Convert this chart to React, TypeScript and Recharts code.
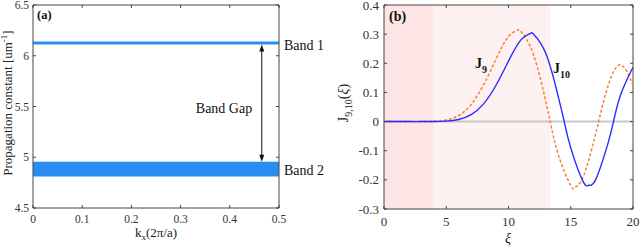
import React from 'react';
import { ComposedChart, LineChart, Line, Area, XAxis, YAxis, ReferenceArea, ReferenceLine } from 'recharts';

// ---- Panel (a) data ----
const kx = [0, 0.5];
const band1 = [6.11, 6.14];
const band2 = [4.81, 4.955];
const gapKx = 0.465;
const kxTicks = [0, 0.1, 0.2, 0.3, 0.4, 0.5];
const betaTicks = [4.5, 5, 5.5, 6, 6.5];

// ---- Panel (b) data ----
const xiJ9 = [0, 1, 2, 3, 4, 5, 6, 7, 8, 9, 10, 10.71, 11, 12, 13, 13.354, 14, 15, 15.28, 16, 17, 17.241, 18, 19, 20];
const j9 = [0, 0, 0, 0.0001, 0.0009, 0.0055, 0.0209, 0.0589, 0.1263, 0.2149, 0.2919, 0.3128, 0.3089, 0.2304, 0.067, 0, -0.1143, -0.22, -0.2252, -0.1895, -0.0429, 0, 0.1227, 0.1948, 0.1251];
const xiJ10 = [0, 1, 2, 3, 4, 5, 6, 7, 8, 9, 10, 11, 11.77, 12, 13, 14, 14.476, 15, 16, 16.44, 17, 18, 18.434, 19, 20];
const j10 = [0, 0, 0, 0, 0.0003, 0.0015, 0.007, 0.0235, 0.0608, 0.1247, 0.2075, 0.2804, 0.3028, 0.3005, 0.2338, 0.085, 0, -0.0901, -0.2062, -0.2183, -0.1991, -0.0732, 0, 0.0915, 0.1865];
const xiTicks = [0, 5, 10, 15, 20];
const jTicks = [-0.3, -0.2, -0.1, 0, 0.1, 0.2, 0.3, 0.4];
const shade = [0, 4, 13.35];

const bandRows = kx.map((k) => ({ kx: k, b1: [band1[0], band1[1]], b2: [band2[0], band2[1]] }));
const j9Rows = xiJ9.map((x, i) => ({ x, y: j9[i] }));
const j10Rows = xiJ10.map((x, i) => ({ x, y: j10[i] }));

const FONT = '"Liberation Serif", "Times New Roman", serif';
const AX = '#444';
const TXT = '#333';
const BAND = '#2a8df2';

function xTick(top: number, size: number, offset: number) {
  return (p: any) => {
    const { x, y, payload } = p;
    return (
      <g>
        <line x1={x} y1={y} x2={x} y2={y - 3} stroke={AX} />
        <line x1={x} y1={top} x2={x} y2={top + 3} stroke={AX} />
        <text x={x} y={y + offset} textAnchor="middle" fontSize={size} style={{ fontFamily: FONT }} fill={TXT}>
          {String(payload.value)}
        </text>
      </g>
    );
  };
}

function yTick(right: number, size: number, gap: number) {
  return (p: any) => {
    const { x, y, payload } = p;
    return (
      <g>
        <line x1={x} y1={y} x2={x + 3} y2={y} stroke={AX} />
        <line x1={right} y1={y} x2={right - 3} y2={y} stroke={AX} />
        <text x={x - gap} y={y} dy="0.35em" textAnchor="end" fontSize={size} style={{ fontFamily: FONT }} fill={TXT}>
          {String(payload.value)}
        </text>
      </g>
    );
  };
}

const ArrowShape = (p: any) => {
  const x = p.x1;
  const top = Math.min(p.y1, p.y2);
  const bot = Math.max(p.y1, p.y2);
  return (
    <g>
      <line x1={x} y1={top + 3} x2={x} y2={bot - 3} stroke="#111" strokeWidth={1} />
      <polygon points={`${x},${top} ${x - 2.5},${top + 7} ${x + 2.5},${top + 7}`} fill="#111" />
      <polygon points={`${x},${bot} ${x - 2.5},${bot - 7} ${x + 2.5},${bot - 7}`} fill="#111" />
    </g>
  );
};

export default function App() {
  return (
    <div style={{ position: 'absolute', left: 0, top: 0, width: 640, height: 248, background: '#fff' }}>
      <div style={{ position: 'absolute', left: 0, top: 0 }}>
        <ComposedChart width={320} height={248} data={bandRows} margin={{ top: 5, right: 41, bottom: 0, left: 0 }}>
          <XAxis dataKey="kx" type="number" domain={[0, 0.5]} ticks={kxTicks} interval={0} axisLine={false} tickLine={false} tickSize={0} tickMargin={0} height={40} tick={xTick(5, 11.5, 14.5)} />
          <YAxis type="number" domain={[4.5, 6.5]} ticks={betaTicks} interval={0} axisLine={false} tickLine={false} tickSize={0} tickMargin={0} width={33} tick={yTick(279, 11.5, 4)} />
          <Area dataKey="b1" type="linear" stroke="none" fill={BAND} fillOpacity={1} isAnimationActive={false} activeDot={false} />
          <Area dataKey="b2" type="linear" stroke="none" fill={BAND} fillOpacity={1} isAnimationActive={false} activeDot={false} />
          <ReferenceLine segment={[{ x: gapKx, y: band1[0] }, { x: gapKx, y: band2[1] }]} shape={ArrowShape} />
          <ReferenceArea x1={0} x2={0.5} y1={4.5} y2={6.5} fill="none" stroke={AX} strokeWidth={1} />
        </ComposedChart>
      </div>
      <div style={{ position: 'absolute', left: 320, top: 0 }}>
        <LineChart width={320} height={248} margin={{ top: 5, right: 7, bottom: 0, left: 0 }}>
          <XAxis dataKey="x" type="number" domain={[0, 20]} ticks={xiTicks} interval={0} axisLine={false} tickLine={false} tickSize={0} tickMargin={0} height={39} tick={xTick(5, 13, 16.5)} allowDataOverflow />
          <YAxis type="number" domain={[-0.3, 0.4]} ticks={jTicks} interval={0} axisLine={false} tickLine={false} tickSize={0} tickMargin={0} width={64} tick={yTick(313, 13, 5)} allowDataOverflow />
          <ReferenceArea x1={shade[0]} x2={shade[1]} y1={-0.3} y2={0.4} fill="#fde5e5" fillOpacity={1} stroke="none" />
          <ReferenceArea x1={shade[1]} x2={shade[2]} y1={-0.3} y2={0.4} fill="#fef1f1" fillOpacity={1} stroke="none" />
          <ReferenceLine y={0} stroke="#c8c8c8" strokeWidth={2} />
          <Line data={j9Rows} dataKey="y" type="natural" stroke="#f5803e" strokeWidth={1.5} strokeDasharray="3 2" dot={false} activeDot={false} isAnimationActive={false} />
          <Line data={j10Rows} dataKey="y" type="natural" stroke="#2a2aff" strokeWidth={1.4} dot={false} activeDot={false} isAnimationActive={false} />
          <ReferenceArea x1={0} x2={20} y1={-0.3} y2={0.4} fill="none" stroke={AX} strokeWidth={1} />
        </LineChart>
      </div>
      <svg width={640} height={248} style={{ position: 'absolute', left: 0, top: 0, pointerEvents: 'none', fontFamily: FONT }}>
        <text x={37} y={19} fontSize={12.5} fontWeight="bold" fill="#111">(a)</text>
        <text x={284} y={50} fontSize={14} fill="#111">Band 1</text>
        <text x={284} y={175} fontSize={14} fill="#111">Band 2</text>
        <text x={224} y={113} fontSize={14} textAnchor="middle" fill="#111">Band Gap</text>
        <text transform="translate(12,103) rotate(-90)" fontSize={13} textAnchor="middle" fill="#222">
          Propagation constant [um<tspan fontSize={9} dy={-5}>-1</tspan><tspan dy={5}>]</tspan>
        </text>
        <text x={156} y={237} fontSize={13} textAnchor="middle" fill="#222">
          k<tspan fontSize={9} dy={3}>x</tspan><tspan dy={-3}>(2π/a)</tspan>
        </text>
        <text x={389} y={21} fontSize={14} fontWeight="bold" fill="#111">(b)</text>
        <text x={475} y={68} fontSize={14} fontWeight="bold" fill="#111">
          J<tspan fontSize={10} dy={5}>9</tspan>
        </text>
        <text x={553} y={73} fontSize={14} fontWeight="bold" fill="#111">
          J<tspan fontSize={10} dy={5}>10</tspan>
        </text>
        <text transform="translate(348,103) rotate(-90)" fontSize={14} textAnchor="middle" fill="#222">
          J<tspan fontSize={10} dy={4}>9,10</tspan><tspan dy={-4}>(</tspan><tspan fontStyle="italic">ξ</tspan>)
        </text>
        <text x={508} y={243} fontSize={14} fontStyle="italic" textAnchor="middle" fill="#222">ξ</text>
      </svg>
    </div>
  );
}
